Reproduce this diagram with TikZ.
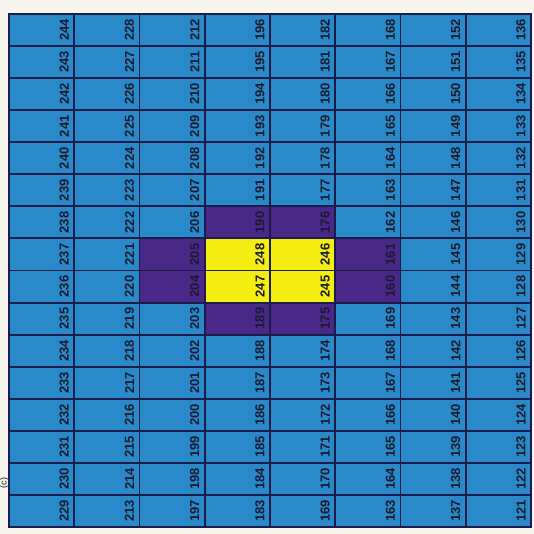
\documentclass[tikz,border=0pt]{standalone}
\usepackage{fontspec}
\setmainfont{Liberation Sans}
\definecolor{bg}{HTML}{F6F4EC}
\definecolor{cellblue}{HTML}{2A89C8}
\definecolor{cellpurple}{HTML}{4A2888}
\definecolor{cellyellow}{HTML}{F5EE12}
\definecolor{gridline}{HTML}{1C1C4A}
\definecolor{numtext}{HTML}{1A1A30}
\tikzset{
  cell/.style={draw=gridline, line width=1.9pt, minimum width=65.25pt, minimum height=32.06pt, inner sep=0pt, outer sep=0pt, fill=cellblue},
  num/.style={rotate=90, font=\bfseries\fontsize{13}{13}\selectfont, text=numtext, inner sep=0pt},
  lab/.style={rotate=90, font=\fontsize{9}{9}\selectfont, text=numtext, inner sep=0pt},
  cellfill-3-8/.style={fill=cellpurple},
  cellfill-3-9/.style={fill=cellpurple},
  cellfill-4-7/.style={fill=cellpurple},
  cellfill-4-10/.style={fill=cellpurple},
  cellfill-5-7/.style={fill=cellpurple},
  cellfill-5-10/.style={fill=cellpurple},
  cellfill-6-8/.style={fill=cellpurple},
  cellfill-6-9/.style={fill=cellpurple},
  cellfill-4-8/.style={fill=cellyellow},
  cellfill-4-9/.style={fill=cellyellow},
  cellfill-5-8/.style={fill=cellyellow},
  cellfill-5-9/.style={fill=cellyellow},
}
\begin{document}
\begin{tikzpicture}[x=1pt,y=-1pt]
\fill[bg] (0,0) rectangle (534,534);
\useasboundingbox (0,0) rectangle (534,534);
\foreach \c/\lst in {
  1/{244,243,242,241,240,239,238,237,236,235,234,233,232,231,230,229},
  2/{228,227,226,225,224,223,222,221,220,219,218,217,216,215,214,213},
  3/{212,211,210,209,208,207,206,205,204,203,202,201,200,199,198,197},
  4/{196,195,194,193,192,191,190,248,247,189,188,187,186,185,184,183},
  5/{182,181,180,179,178,177,176,246,245,175,174,173,172,171,170,169},
  6/{168,167,166,165,164,163,162,161,160,169,168,167,166,165,164,163},
  7/{152,151,150,149,148,147,146,145,144,143,142,141,140,139,138,137},
  8/{136,135,134,133,132,131,130,129,128,127,126,125,124,123,122,121}}{
  \foreach \v [count=\r] in \lst {
    \node[cell, cellfill-\c-\r/.try] (cell-\c-\r) at ({9+(\c-0.5)*65.25},{14+(\r-0.5)*32.0625}) {};
    \node[num] (num-\c-\r) at ([xshift=-10pt]cell-\c-\r.east) {\v};
  }
}
\node[lab] (label) at (4.2,483) {(c)};
\end{tikzpicture}
\end{document}
